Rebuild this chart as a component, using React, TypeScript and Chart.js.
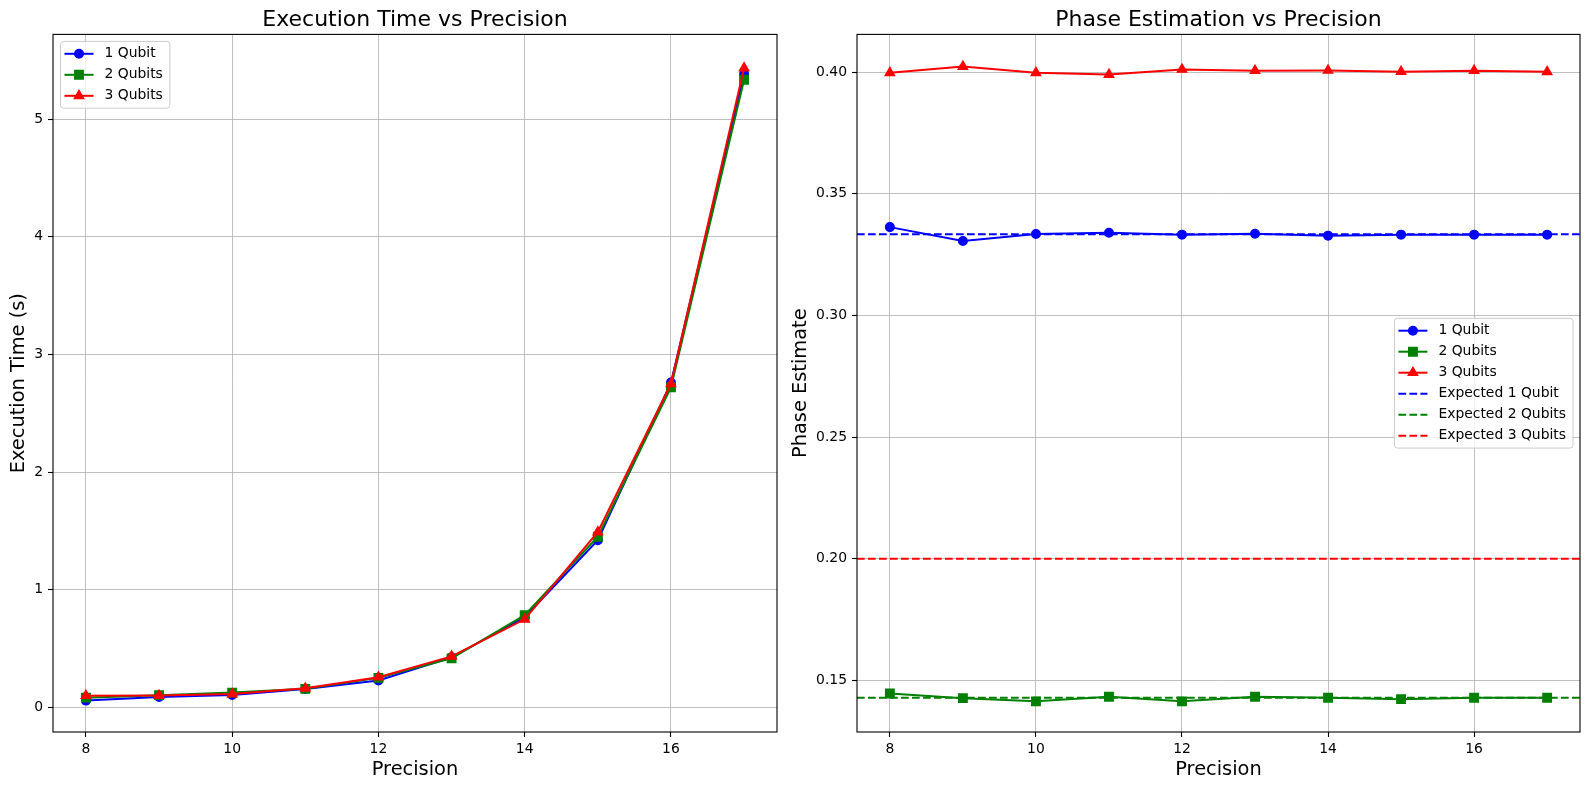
import React, { useEffect, useRef } from "react";
import Chart from "chart.js/auto";

// ---------- data ----------
const PRECISION = [8, 9, 10, 11, 12, 13, 14, 15, 16, 17];

const TIME_1_QUBIT = [0.057, 0.088, 0.105, 0.155, 0.228, 0.425, 0.765, 1.42, 2.76, 5.383];
const TIME_2_QUBITS = [0.082, 0.103, 0.125, 0.157, 0.25, 0.416, 0.783, 1.45, 2.72, 5.335];
const TIME_3_QUBITS = [0.099, 0.1, 0.112, 0.162, 0.256, 0.433, 0.748, 1.49, 2.75, 5.434];

const PHASE_1_QUBIT = [0.3363, 0.3306, 0.3335, 0.334, 0.3332, 0.3336, 0.3328, 0.3332, 0.3332, 0.3332];
const PHASE_2_QUBITS = [0.1446, 0.1427, 0.1414, 0.1433, 0.1414, 0.1433, 0.1429, 0.1423, 0.1429, 0.1429];
const PHASE_3_QUBITS = [0.3997, 0.4023, 0.3997, 0.399, 0.4011, 0.4006, 0.4007, 0.4002, 0.4006, 0.4001];

const EXPECTED_1_QUBIT = 1 / 3;
const EXPECTED_2_QUBITS = 1 / 7;
const EXPECTED_3_QUBITS = 0.2;

const SERIES_LABELS = ["1 Qubit", "2 Qubits", "3 Qubits"];
const EXPECTED_LABELS = ["Expected 1 Qubit", "Expected 2 Qubits", "Expected 3 Qubits"];

const X_TICKS = [8, 10, 12, 14, 16];
const TIME_TICKS = [0, 1, 2, 3, 4, 5];
const PHASE_TICKS = [0.15, 0.2, 0.25, 0.3, 0.35, 0.4];
const PHASE_TICK_LABELS = ["0.15", "0.20", "0.25", "0.30", "0.35", "0.40"];

const X_LIMITS = [7.55, 17.45];
const TIME_LIMITS = [-0.21, 5.72];
const PHASE_LIMITS = [0.1288, 0.4155];

// ---------- styles ----------
const FONT = "'DejaVu Sans', sans-serif";
const COLORS = ["#0000ff", "#008000", "#ff0000"];
const STYLES = ["circle", "rect", "triangle"];
const RADII = [4.3, 6.0, 5.4];
const MARKER_EDGE = 1.4;

const toXY = (ys: number[]) => PRECISION.map((x, i) => ({ x, y: ys[i] }));

function seriesDatasets(series: number[][]) {
  return series.map((ys, i) => ({
    label: SERIES_LABELS[i],
    data: toXY(ys),
    order: 10 - i,
    borderColor: COLORS[i],
    backgroundColor: COLORS[i],
    pointBackgroundColor: COLORS[i],
    pointBorderColor: COLORS[i],
    pointStyle: STYLES[i],
    pointRadius: RADII[i],
    pointBorderWidth: MARKER_EDGE,
    borderWidth: 2,
    tension: 0,
    fill: false,
  }));
}

function expectedDatasets(values: number[]) {
  return values.map((v, i) => ({
    label: EXPECTED_LABELS[i],
    data: [
      { x: X_LIMITS[0], y: v },
      { x: X_LIMITS[1], y: v },
    ],
    order: 5 - i,
    borderColor: COLORS[i],
    backgroundColor: COLORS[i],
    borderDash: [7.7, 3.3],
    pointRadius: 0,
    borderWidth: 2,
    fill: false,
  }));
}

const framePlugin = {
  id: "frame",
  afterDatasetsDraw(chart: any) {
    const { ctx, chartArea: a } = chart;
    ctx.save();
    ctx.strokeStyle = "#000";
    ctx.lineWidth = 1.1;
    ctx.strokeRect(a.left, a.top, a.right - a.left, a.bottom - a.top);
    ctx.restore();
  },
};

function drawMarker(ctx: CanvasRenderingContext2D, style: string, r: number, x: number, y: number) {
  ctx.beginPath();
  if (style === "circle") {
    ctx.arc(x, y, r, 0, Math.PI * 2);
  } else if (style === "rect") {
    const s = Math.SQRT1_2 * r;
    ctx.rect(x - s, y - s, 2 * s, 2 * s);
  } else {
    const h = (2 * Math.PI) / 3;
    let ang = 0;
    ctx.moveTo(x + Math.sin(ang) * r, y - Math.cos(ang) * r);
    ang += h;
    ctx.lineTo(x + Math.sin(ang) * r, y - Math.cos(ang) * r);
    ang += h;
    ctx.lineTo(x + Math.sin(ang) * r, y - Math.cos(ang) * r);
    ctx.closePath();
  }
  ctx.fill();
  ctx.lineWidth = MARKER_EDGE;
  ctx.stroke();
}

const legendPlugin = {
  id: "mplLegend",
  afterDraw(chart: any, _args: any, opts: any) {
    const { ctx, chartArea: a } = chart;
    const items = chart.data.datasets;
    const fs = 13.9;
    ctx.save();
    ctx.font = `${fs}px ${FONT}`;
    const textW = Math.max(...items.map((d: any) => ctx.measureText(d.label).width));
    const rowH = 21;
    const margin = 12.4;
    const w = 44 + textW + 7;
    const h = margin * 2 + rowH * (items.length - 1);
    let x: number, y: number;
    if (opts.loc === "upper left") {
      x = a.left + 7.5;
      y = a.top + 7;
    } else {
      x = a.right - 7 - w;
      y = (a.top + a.bottom) / 2 - h / 2;
    }
    ctx.beginPath();
    (ctx as any).roundRect(x, y, w, h, 3);
    ctx.fillStyle = "rgba(255,255,255,0.8)";
    ctx.fill();
    ctx.strokeStyle = "#cccccc";
    ctx.lineWidth = 1;
    ctx.stroke();
    items.forEach((d: any, i: number) => {
      const cy = y + margin + i * rowH;
      ctx.strokeStyle = d.borderColor;
      ctx.lineWidth = 2;
      ctx.setLineDash(d.borderDash || []);
      ctx.beginPath();
      ctx.moveTo(x + 4, cy);
      ctx.lineTo(x + 33, cy);
      ctx.stroke();
      ctx.setLineDash([]);
      if (d.pointRadius > 0) {
        ctx.fillStyle = d.borderColor;
        drawMarker(ctx, d.pointStyle, d.pointRadius, x + 18.5, cy);
      }
      ctx.fillStyle = "#000";
      ctx.textBaseline = "middle";
      ctx.textAlign = "left";
      ctx.fillText(d.label, x + 44, cy);
    });
    ctx.restore();
  },
};

type Cfg = {
  title: string;
  yTitle: string;
  datasets: any[];
  yLimits: number[];
  yTicks: number[];
  yTickLabels?: string[];
  yWidth: number;
  yTitlePad: number;
  rightPad: number;
  legendLoc: string;
};

function makeConfig(c: Cfg): any {
  const tickFont = { family: FONT, size: 13.9 };
  const titleFont = { family: FONT, size: 19.4 };
  return {
    type: "line",
    data: { datasets: c.datasets },
    plugins: [framePlugin, legendPlugin],
    options: {
      responsive: false,
      maintainAspectRatio: false,
      animation: false,
      events: [],
      layout: { padding: { left: 0, right: c.rightPad, top: 0, bottom: 0 } },
      plugins: {
        legend: { display: false },
        tooltip: { enabled: false },
        title: {
          display: true,
          text: c.title,
          fullSize: false,
          color: "#000",
          font: { family: FONT, size: 22, weight: "normal" },
          padding: { top: 7, bottom: 1 },
        },
        mplLegend: { loc: c.legendLoc },
      },
      scales: {
        x: {
          type: "linear",
          min: X_LIMITS[0],
          max: X_LIMITS[1],
          afterBuildTicks: (axis: any) => {
            axis.ticks = X_TICKS.map((v) => ({ value: v }));
          },
          afterFit: (scale: any) => {
            scale.height = 58;
          },
          ticks: { color: "#000", font: tickFont, padding: 4, maxRotation: 0, autoSkip: false },
          grid: { color: "#b0b0b0", lineWidth: 0.8, tickColor: "#000", tickLength: 5, tickWidth: 1.1 },
          border: { display: false },
          title: {
            display: true,
            text: "Precision",
            color: "#000",
            font: titleFont,
            padding: { top: 0, bottom: 8 },
          },
        },
        y: {
          type: "linear",
          min: c.yLimits[0],
          max: c.yLimits[1],
          afterBuildTicks: (axis: any) => {
            axis.ticks = c.yTicks.map((v) => ({ value: v }));
          },
          afterFit: (scale: any) => {
            scale.width = c.yWidth;
          },
          ticks: {
            color: "#000",
            font: tickFont,
            padding: 5,
            autoSkip: false,
            callback: (v: any, i: number) => (c.yTickLabels ? c.yTickLabels[i] : String(v)),
          },
          grid: { color: "#b0b0b0", lineWidth: 0.8, tickColor: "#000", tickLength: 5, tickWidth: 1.1 },
          border: { display: false },
          title: {
            display: true,
            text: c.yTitle,
            color: "#000",
            font: titleFont,
            padding: { top: c.yTitlePad, bottom: 0 },
          },
        },
      },
    },
  };
}

export default function App() {
  const leftRef = useRef<HTMLCanvasElement>(null);
  const rightRef = useRef<HTMLCanvasElement>(null);

  useEffect(() => {
    const left = new Chart(
      leftRef.current as HTMLCanvasElement,
      makeConfig({
        title: "Execution Time vs Precision",
        yTitle: "Execution Time (s)",
        datasets: seriesDatasets([TIME_1_QUBIT, TIME_2_QUBITS, TIME_3_QUBITS]),
        yLimits: TIME_LIMITS,
        yTicks: TIME_TICKS,
        yWidth: 53,
        yTitlePad: 7.5,
        rightPad: 18,
        legendLoc: "upper left",
      })
    );
    const right = new Chart(
      rightRef.current as HTMLCanvasElement,
      makeConfig({
        title: "Phase Estimation vs Precision",
        yTitle: "Phase Estimate",
        datasets: [
          ...seriesDatasets([PHASE_1_QUBIT, PHASE_2_QUBITS, PHASE_3_QUBITS]),
          ...expectedDatasets([EXPECTED_1_QUBIT, EXPECTED_2_QUBITS, EXPECTED_3_QUBITS]),
        ],
        yLimits: PHASE_LIMITS,
        yTicks: PHASE_TICKS,
        yTickLabels: PHASE_TICK_LABELS,
        yWidth: 77,
        yTitlePad: 9.5,
        rightPad: 9,
        legendLoc: "center right",
      })
    );
    return () => {
      left.destroy();
      right.destroy();
    };
  }, []);

  return (
    <div style={{ position: "absolute", left: 0, top: 0, width: 1589, height: 790, background: "#fff" }}>
      <canvas
        ref={leftRef}
        width={795}
        height={790}
        style={{ position: "absolute", left: 0, top: 0, width: 795, height: 790, display: "block" }}
      />
      <canvas
        ref={rightRef}
        width={809}
        height={790}
        style={{ position: "absolute", left: 780, top: 0, width: 809, height: 790, display: "block" }}
      />
    </div>
  );
}
